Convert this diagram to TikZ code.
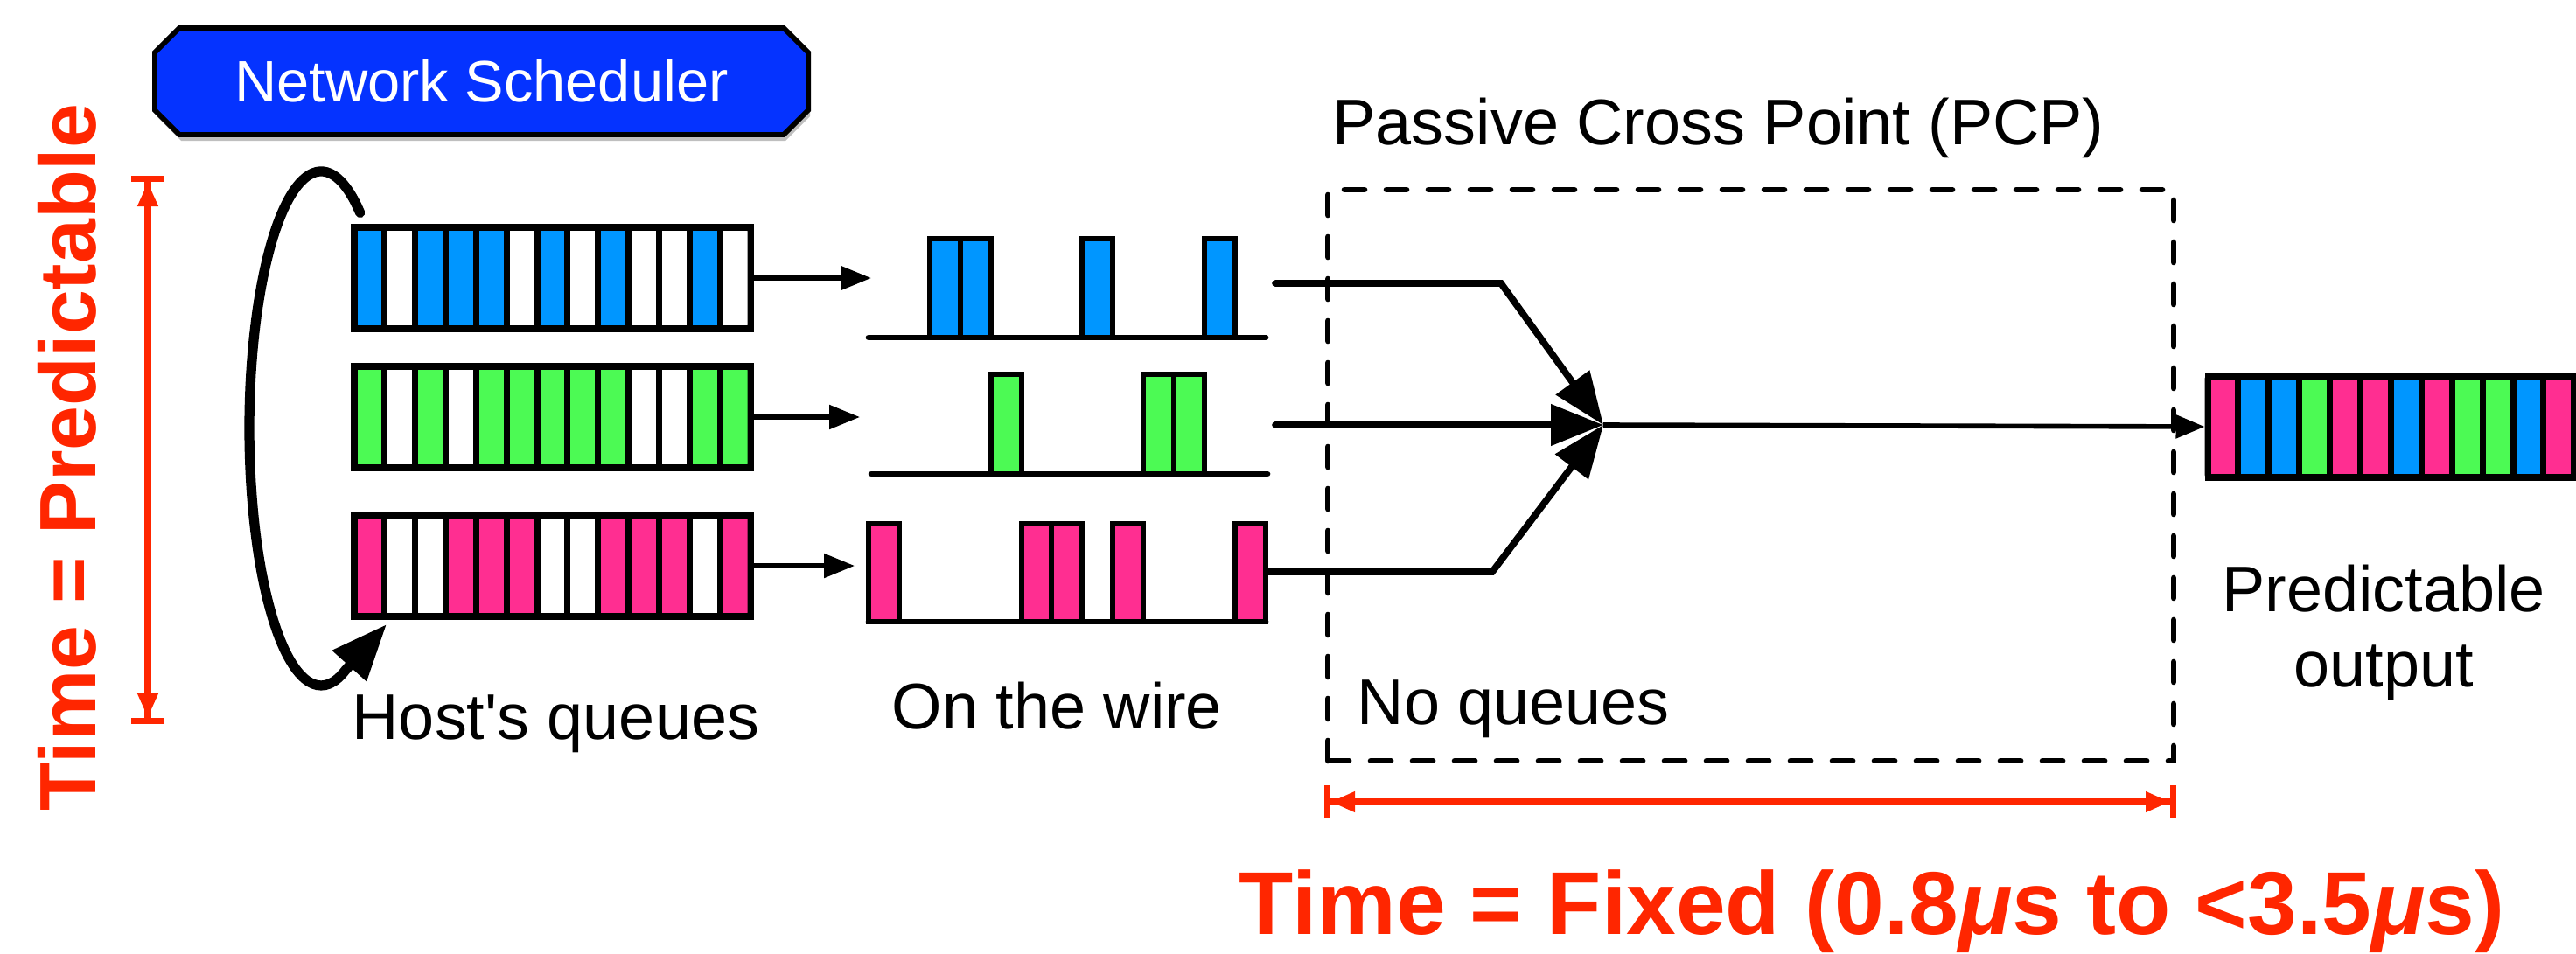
\documentclass[tikz,border=0pt]{standalone}
\usepackage{fontspec}
\setmainfont{Liberation Sans}
\usepackage{xcolor}
\usepackage{tikz}
\usetikzlibrary{
	arrows.meta,
	shadows,
	shapes,
	positioning,
}
\definecolor{hostblue}{rgb}{0.0, 0.59, 1.0}
\definecolor{hostgreen}{rgb}{0.30, 0.98, 0.33}
\definecolor{hostpink}{rgb}{1.0, 0.18, 0.57}
\definecolor{scheduler}{rgb}{0.02, 0.2, 1.0}
\definecolor{timered}{rgb}{1.0, 0.15, 0.0}

\begin{document}
\begin{tikzpicture}[
	cell/.style={draw=black, line width=2pt},
	qframe/.style={draw=black, line width=2pt, rounded corners=1pt, minimum width=4.53cm, minimum height=1.16cm, inner sep=0pt},
	oframe/.style={qframe, minimum width=4.19cm},
	pkt/.style={draw=black, line width=1.7pt},
	wire/.style={line width=1.9pt, line cap=round},
	feed/.style={line width=1.5pt, line cap=round, -{Triangle[length=0.35cm,width=0.27cm]}},
	merge/.style={line width=2.2pt, line cap=round, -{Triangle[length=0.6cm,width=0.46cm]}},
	outline/.style={line width=1.6pt, -{Triangle[length=0.33cm,width=0.26cm]}},
	loopline/.style={line width=3.2pt, line cap=round, -{Triangle[length=0.64cm,width=0.5cm]}},
	pcpbox/.style={line width=1.9pt, line cap=round, dash pattern=on 0.23cm off 0.25cm},
	label/.style={font=\fontsize{21}{24.2}\selectfont, inner sep=0pt},
	redlabel/.style={text=timered, font=\fontsize{26}{30}\selectfont\bfseries, inner sep=0pt},
	timearrow/.style={draw=timered, line width=2pt,
		{Bar[width=0.38cm,sep=0pt]Triangle[length=0.28cm,width=0.22cm]}-{Triangle[length=0.28cm,width=0.22cm]Bar[width=0.38cm,sep=0pt]}},
	sched/.style={chamfered rectangle, chamfered rectangle xsep=0.14cm, chamfered rectangle ysep=0.14cm,
		draw=black, line width=1.7pt, fill=scheduler, text=white, font=\fontsize{19}{22}\selectfont,
		minimum width=7.47cm, minimum height=1.22cm, inner sep=0pt,
		drop shadow={shadow xshift=0.02cm, shadow yshift=-0.07cm, opacity=0.5}},
	]
\useasboundingbox (0,0) rectangle (29.45,10.9);

% scheduler
\node[sched] (sched) at (5.505,9.97) {Network Scheduler};

% host's queues
\foreach \c [count=\i from 0] in {hostblue,white,hostblue,hostblue,hostblue,white,hostblue,white,hostblue,white,white,hostblue,white}
	\draw[cell, fill=\c] ({4.05+\i*0.3485},7.14) rectangle ++(0.3485,1.16);
\node[qframe] (bq) at (6.3155,7.72) {};
\foreach \c [count=\i from 0] in {hostgreen,white,hostgreen,white,hostgreen,hostgreen,hostgreen,hostgreen,hostgreen,white,white,hostgreen,hostgreen}
	\draw[cell, fill=\c] ({4.05+\i*0.3485},5.55) rectangle ++(0.3485,1.16);
\node[qframe] (gq) at (6.3155,6.13) {};
\foreach \c [count=\i from 0] in {hostpink,white,white,hostpink,hostpink,hostpink,white,white,hostpink,hostpink,hostpink,white,hostpink}
	\draw[cell, fill=\c] ({4.05+\i*0.3485},3.85) rectangle ++(0.3485,1.16);
\node[qframe] (pq) at (6.3155,4.43) {};

% scheduler loop
\coordinate (lstart) at (4.117,8.466);
\coordinate (ltip) at (4.42,3.76);
\draw[loopline] (lstart) arc[start angle=57, end angle=290, x radius=0.82cm, y radius=2.94cm] -- (ltip);

% on the wire
\coordinate (bin) at (9.96,7.72);
\coordinate (gin) at (9.83,6.13);
\coordinate (pin) at (9.77,4.43);
\draw[feed] (bq.east) -- (bin);
\draw[feed] (gq.east) -- (gin);
\draw[feed] (pq.east) -- (pin);

\foreach \s in {2,3,7,11}
	\draw[pkt, fill=hostblue] ({9.93+\s*0.349},7.04) rectangle ++(0.349,1.13);
\draw[wire] (9.93,7.04) -- (14.47,7.04);
\foreach \s in {4,9,10}
	\draw[pkt, fill=hostgreen] ({9.93+\s*0.349},5.48) rectangle ++(0.349,1.14);
\draw[wire] (9.96,5.48) -- (14.49,5.48);
\foreach \s in {0,5,6,8,12}
	\draw[pkt, fill=hostpink] ({9.93+\s*0.349},3.79) rectangle ++(0.349,1.12);
\draw[wire] (9.93,3.79) -- (14.47,3.79);

% passive cross point
\draw[pcpbox] (15.18,2.20) rectangle (24.85,8.73);
\coordinate (bout) at (14.58,7.66);
\coordinate (gout) at (14.58,6.04);
\coordinate (pout) at (14.50,4.36);
\coordinate (bbend) at (17.16,7.66);
\coordinate (pbend) at (17.06,4.36);
\coordinate (pcp) at (18.33,6.04);
\draw[merge] (bout) -- (bbend) -- (pcp);
\draw[merge] (gout) -- (pcp);
\draw[merge] (pout) -- (pbend) -- (pcp);

% output
\foreach \c [count=\i from 0] in {hostpink,hostblue,hostblue,hostgreen,hostpink,hostpink,hostblue,hostpink,hostgreen,hostgreen,hostblue,hostpink}
	\draw[cell, fill=\c] ({25.24+\i*0.349},5.44) rectangle ++(0.349,1.16);
\node[oframe] (oq) at (27.335,6.02) {};
\draw[outline] (pcp) -- (oq.west);

% labels
\node[label, anchor=base west] (pcplbl) at (15.23,9.25) {Passive Cross Point (PCP)};
\node[label, anchor=base west] (hostlbl) at (4.02,2.45) {Host\textquotesingle s queues};
\node[label, anchor=base west] (wirelbl) at (10.19,2.57) {On the wire};
\node[label, anchor=base west] (nolbl) at (15.51,2.62) {No queues};
\node[label, align=center, anchor=base] (outlbl) at (27.25,3.05) {Predictable\\output};

% time
\coordinate (tlow) at (1.69,2.62);
\coordinate (thigh) at (1.69,8.89);
\draw[timearrow] (tlow) -- (thigh);
\node[redlabel, rotate=90, anchor=base] (tpred) at (1.09,5.67) {Time = Predictable};
\coordinate (tleft) at (15.14,1.73);
\coordinate (tright) at (24.88,1.73);
\draw[timearrow] (tleft) -- (tright);
\node[redlabel, font=\fontsize{29}{34}\selectfont\bfseries, anchor=base] (tfix) at (21.40,0.22) {Time = Fixed (0.8\textit{μ}s to <3.5\textit{μ}s)};

\end{tikzpicture}
\end{document}
